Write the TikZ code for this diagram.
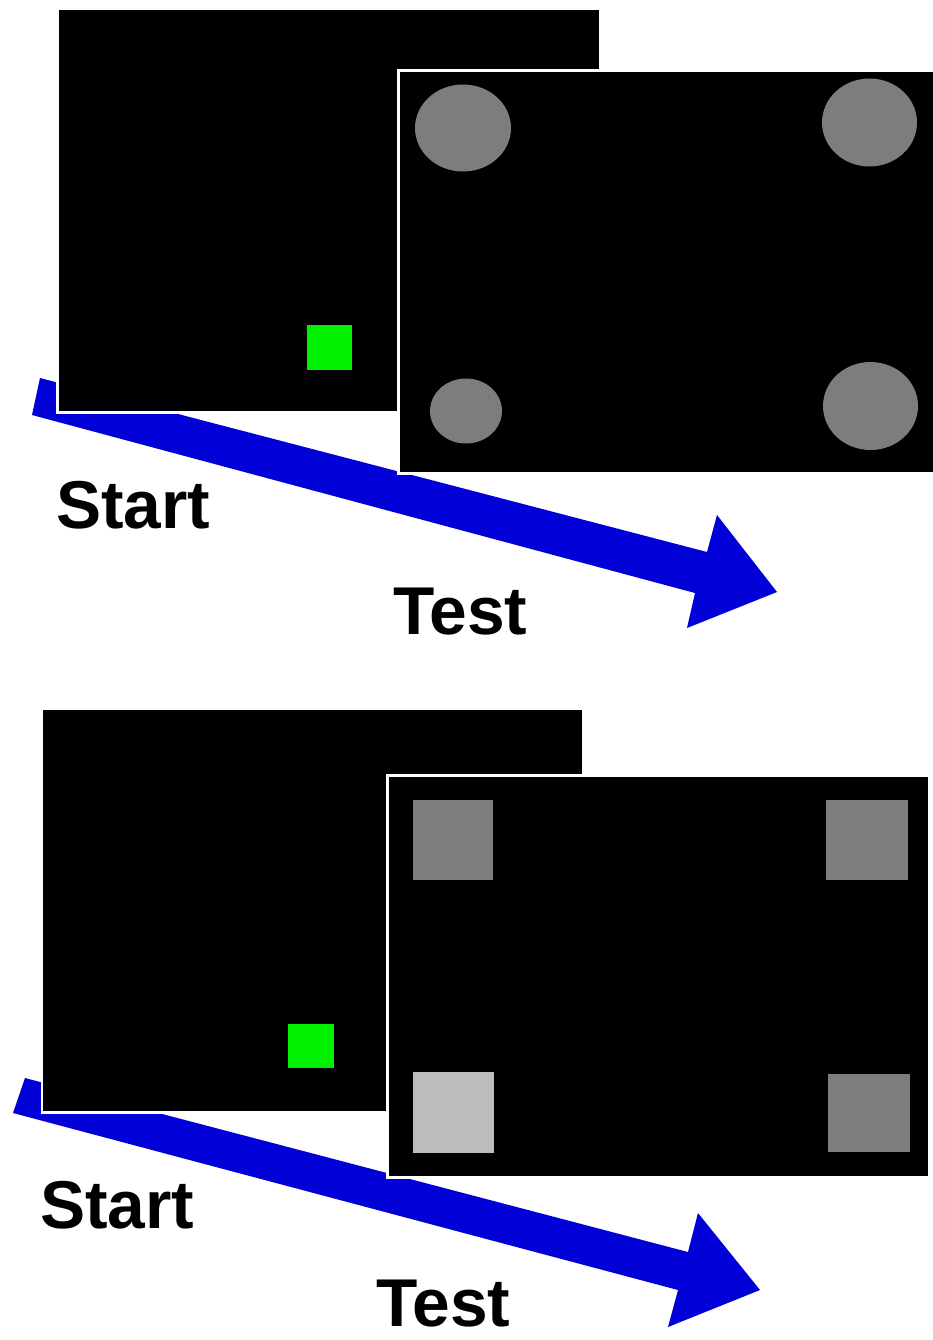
\documentclass[tikz,border=0pt]{standalone}
\usepackage{fontspec}
\setmainfont{Liberation Sans}
\definecolor{arrowblue}{RGB}{0,0,215}
\definecolor{stimgray}{RGB}{125,125,125}
\definecolor{lightgray}{RGB}{188,188,188}
\definecolor{cuegreen}{RGB}{0,240,0}
\begin{document}
\begin{tikzpicture}[x=0.02cm,y=-0.02cm,
  screen/.style={fill=black,draw=white,line width=0.06cm},
  flow/.style={fill=arrowblue,draw=none},
  label/.style={font=\fontsize{38.5}{42}\selectfont\bfseries,anchor=base west,inner sep=0pt,text=black},
  cue/.style={fill=cuegreen,draw=none},
  stim/.style={fill=stimgray,draw=none}]
\useasboundingbox (0,0) rectangle (933,1340);
% ---------- top panel ----------
\fill[flow] (40,378) -- (707,552) -- (717,515) -- (777,592) -- (687,628) -- (695,593) -- (32,415) -- cycle;
\draw[screen] (57,8) rectangle (600,412);
\fill[cue] (307,325) rectangle (352,370);
\draw[screen] (398,70) rectangle (945,473);
\fill[stim] (463,128) ellipse [x radius=48,y radius=43.5];
\fill[stim] (869.5,122.5) ellipse [x radius=47.5,y radius=44];
\fill[stim] (466,411) ellipse [x radius=36,y radius=32.5];
\fill[stim] (870.5,406) ellipse [x radius=47.5,y radius=44];
\node[label] (start1) at (56,528) {Start};
\node[label] (test1) at (393,634) {Test};
% ---------- bottom panel ----------
\fill[flow] (25,1078) -- (688,1252) -- (698,1213) -- (760,1290) -- (668,1327) -- (678,1290) -- (13,1113) -- cycle;
\draw[screen] (42,708) rectangle (583,1112);
\fill[cue] (288,1024) rectangle (334,1068);
\draw[screen] (387,775) rectangle (929,1177);
\fill[stim] (413,800) rectangle (493,880);
\fill[stim] (826,800) rectangle (908,880);
\fill[lightgray] (413,1072) rectangle (494,1153);
\fill[stim] (828,1074) rectangle (910,1152);
\node[label] (start2) at (40,1228) {Start};
\node[label] (test2) at (376,1326) {Test};
\end{tikzpicture}
\end{document}
